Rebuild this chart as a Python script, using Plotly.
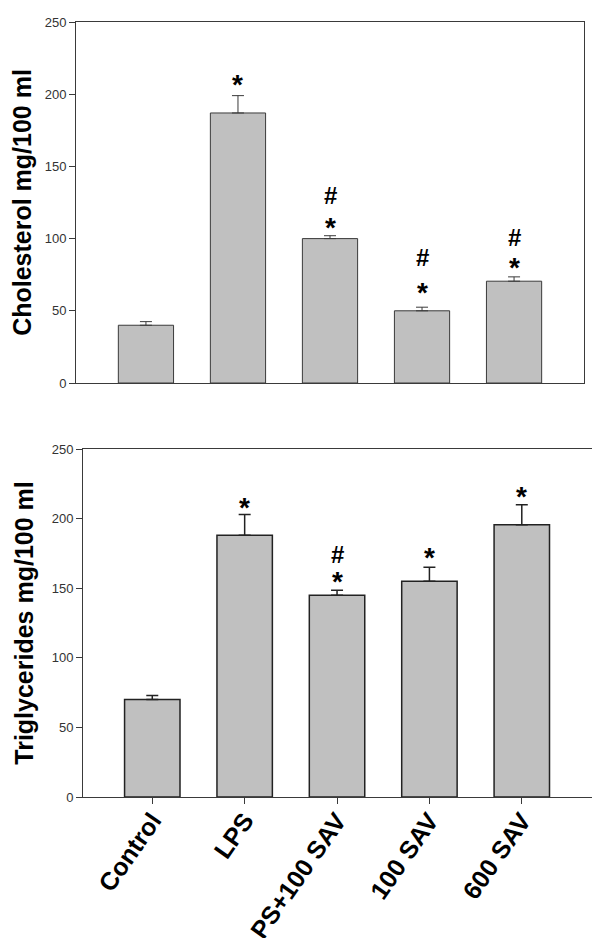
import plotly.graph_objects as go

categories = ["Control", "LPS", "LPS+100 SAV", "100 SAV", "600 SAV"]

chol_values = [40, 187, 100, 50, 70.5]
chol_err_top = [42.5, 199, 102, 52.5, 73.5]
tri_values = [70, 188, 145, 155, 195.5]
tri_err_top = [73, 203, 148.5, 165, 210]

# significance marks: (category, y, symbol)
chol_marks_cat = ["LPS", "LPS+100 SAV", "LPS+100 SAV", "100 SAV", "100 SAV", "600 SAV", "600 SAV"]
chol_marks_y = [209, 110, 130, 65, 87, 82, 101]
chol_marks_sym = ["*", "*", "#", "*", "#", "*", "#"]

tri_marks_cat = ["LPS", "LPS+100 SAV", "LPS+100 SAV", "100 SAV", "600 SAV"]
tri_marks_y = [210, 157, 174, 174, 218]
tri_marks_sym = ["*", "*", "#", "*", "*"]

y_ticks = [0, 50, 100, 150, 200, 250]

FONT = "Liberation Sans, Arial, sans-serif"
BAR = "#c0c0c0"
LINE = "#3a3a3a"

# page body has an 8px default margin; figure is sized to fit the window
OFF = 8
W, H = 600 - OFF, 938 - OFF


def px_x(p):
    return (p - OFF) / W


def px_y(p):
    return 1 - (p - OFF) / H


fig = go.Figure()

fig.add_trace(go.Bar(
    x=categories, y=chol_values, width=0.6,
    marker=dict(color=BAR, line=dict(color=LINE, width=1)),
    error_y=dict(type="data", symmetric=False,
                 array=[t - v for t, v in zip(chol_err_top, chol_values)],
                 arrayminus=[0] * len(chol_values),
                 color=LINE, thickness=1, width=6),
    xaxis="x", yaxis="y", showlegend=False))

fig.add_trace(go.Bar(
    x=categories, y=tri_values, width=0.6,
    marker=dict(color=BAR, line=dict(color="#222222", width=1.5)),
    error_y=dict(type="data", symmetric=False,
                 array=[t - v for t, v in zip(tri_err_top, tri_values)],
                 arrayminus=[0] * len(tri_values),
                 color="#222222", thickness=1.5, width=6),
    xaxis="x2", yaxis="y2", showlegend=False))


def mark(c, y, s, xr, yr):
    if s == "*":
        return dict(x=c, y=y, xref=xr, yref=yr, text="<b>*</b>", showarrow=False,
                    yshift=-3, font=dict(family=FONT, size=28, color="#000"))
    return dict(x=c, y=y, xref=xr, yref=yr, text="<b>#</b>", showarrow=False,
                font=dict(family=FONT, size=24, color="#000"))


annotations = [mark(c, y, s, "x", "y") for c, y, s in zip(chol_marks_cat, chol_marks_y, chol_marks_sym)]
annotations += [mark(c, y, s, "x2", "y2") for c, y, s in zip(tri_marks_cat, tri_marks_y, tri_marks_sym)]

axis_common = dict(showline=True, linecolor=LINE, linewidth=1, mirror=True,
                   showgrid=False, zeroline=False, automargin=False)

fig.update_layout(
    width=W, height=H,
    margin=dict(l=0, r=0, t=0, b=0),
    paper_bgcolor="white", plot_bgcolor="white",
    font=dict(family=FONT, color="#222"),
    annotations=annotations,
    xaxis=dict(domain=[px_x(76), px_x(584)], anchor="y", range=[-0.76, 4.76],
               showticklabels=False, ticks="", **axis_common),
    yaxis=dict(domain=[px_y(383), px_y(22)], anchor="x", range=[0, 250],
               tickvals=y_ticks, ticks="outside", ticklen=6, tickcolor=LINE,
               tickfont=dict(size=13, color="#333"),
               title=dict(text="<b>Cholesterol mg/100 ml</b>", standoff=6,
                          font=dict(size=25, color="#000")),
               **axis_common),
    xaxis2=dict(domain=[px_x(83), px_x(592)], anchor="y2", range=[-0.75, 4.76],
                tickangle=-55, ticks="outside", ticklen=6, tickcolor=LINE,
                ticklabelstandoff=-8,
                tickfont=dict(size=25, color="#000", weight="bold"),
                **axis_common),
    yaxis2=dict(domain=[px_y(797), px_y(449)], anchor="x2", range=[0, 250],
                tickvals=y_ticks, ticks="outside", ticklen=6, tickcolor=LINE,
                tickfont=dict(size=13, color="#333"),
                title=dict(text="<b>Triglycerides mg/100 ml</b>", standoff=10,
                           font=dict(size=25, color="#000")),
                **axis_common),
)

fig.write_html("out.html")
